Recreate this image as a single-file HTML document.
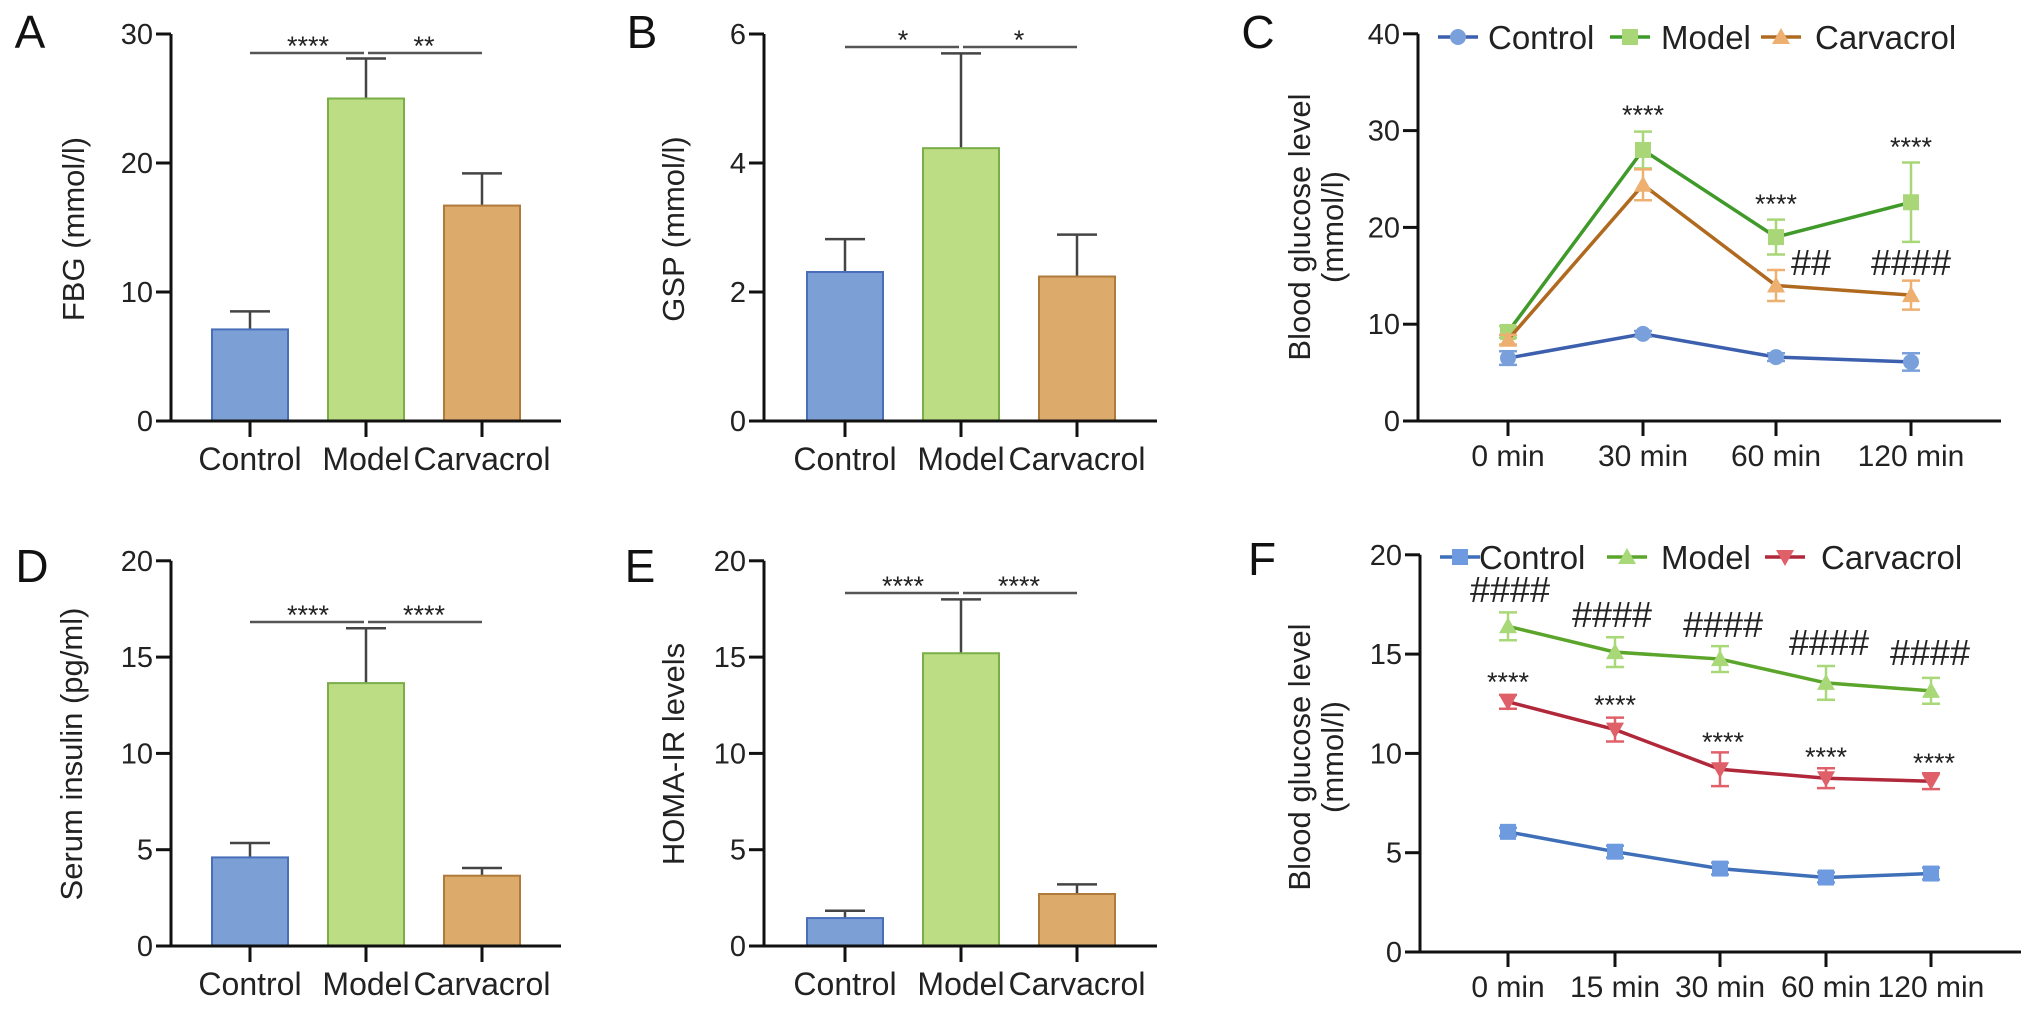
<!DOCTYPE html>
<html><head><meta charset="utf-8"><style>
html,body{margin:0;padding:0;background:#fff;}
svg{display:block;font-family:"Liberation Sans",Arial,sans-serif;}
</style></head><body>
<svg id="fig" width="2032" height="1012" viewBox="0 0 2032 1012" xmlns="http://www.w3.org/2000/svg"></svg>
<script>
// ---- data ----
const barCats = ["Control","Model","Carvacrol"];
const aVals = [7.1, 25.0, 16.7];
const aErr = [8.5, 28.1, 19.2];
const bVals = [2.31, 4.23, 2.24];
const bErr = [2.82, 5.70, 2.89];
const dVals = [4.6, 13.65, 3.65];
const dErr = [5.35, 16.5, 4.05];
const eVals = [1.45, 15.2, 2.7];
const eErr = [1.83, 18.0, 3.2];
const aTicks = [0,10,20,30];
const bTicks = [0,2,4,6];
const dTicks = [0,5,10,15,20];
const cCats = ["0 min","30 min","60 min","120 min"];
const cTicks = [0,10,20,30,40];
const cControl = [6.5, 9.0, 6.6, 6.1];
const cControlSd = [0.7, 0.3, 0.4, 0.9];
const cModel = [9.2, 28.0, 19.0, 22.6];
const cModelSd = [0.6, 1.9, 1.8, 4.1];
const cCarv = [8.4, 24.4, 14.0, 13.0];
const cCarvSd = [0.5, 1.6, 1.6, 1.5];
const fCats = ["0 min","15 min","30 min","60 min","120 min"];
const fTicks = [0,5,10,15,20];
const fControl = [6.05, 5.05, 4.2, 3.75, 3.95];
const fControlSd = [0.2, 0.3, 0.3, 0.25, 0.3];
const fModel = [16.4, 15.1, 14.75, 13.55, 13.15];
const fModelSd = [0.7, 0.75, 0.65, 0.85, 0.65];
const fCarv = [12.6, 11.2, 9.2, 8.75, 8.6];
const fCarvSd = [0.35, 0.6, 0.85, 0.5, 0.4];

const NS="http://www.w3.org/2000/svg";
const svg=document.getElementById('fig');
function el(tag,attrs,parent,text){const e=document.createElementNS(NS,tag);for(const k in attrs)e.setAttribute(k,attrs[k]);if(text!==undefined)e.textContent=text;(parent||svg).appendChild(e);return e;}
const FILL=["#7c9fd6","#bcdd84","#dcab6b"], STROKE=["#4a6fb8","#7aae48","#b07a3a"];

function panelLetter(t,x,y){const e=el('text',{x:x,y:y,'font-size':46,fill:'#111','text-anchor':'middle'},svg,t);

}

function yAxis(g,ax,yFn,ticks,x1){
  el('line',{x1:ax,y1:yFn(ticks[ticks.length-1]),x2:ax,y2:yFn(0),stroke:'#111','stroke-width':3},g);
  ticks.forEach(t=>{el('line',{x1:ax-15,y1:yFn(t),x2:ax,y2:yFn(t),stroke:'#111','stroke-width':3},g);
    const tx=el('text',{x:ax-18,y:yFn(t)+10,'font-size':29,'text-anchor':'end',fill:'#222'},g,String(t));
    
    });
  const xa=el('line',{x1:ax-15,y1:yFn(0),x2:x1,y2:yFn(0),stroke:'#111','stroke-width':3},g);
  
  
}
function yTitle(g,lines,x,cy){
  lines.forEach((s,i)=>{const t=el('text',{x:0,y:0,'font-size':31,'text-anchor':'middle',fill:'#222',transform:`translate(${x+i*33},${cy}) rotate(-90)`},g,s);
  
  });
}
function stars(g,s,x,y,size){const t=el('text',{x:x,y:y,'font-size':size||27,'text-anchor':'middle',fill:'#222'},g,s);
  
  }

function barPanel(name,ax,base,unitPx,ticks,vals,errs,centers,xEnd,title,titleX,sig){
  const g=el('g',{});
  
  
  const yFn=v=>base-v*unitPx;
  vals.forEach((v,i)=>{
    const cx=centers[i];
    el('line',{x1:cx,y1:yFn(v),x2:cx,y2:yFn(errs[i]),stroke:'#444','stroke-width':2.5},g);
    el('line',{x1:cx-20,y1:yFn(errs[i]),x2:cx+20,y2:yFn(errs[i]),stroke:'#444','stroke-width':2.5},g);
    const r=el('rect',{x:cx-38,y:yFn(v),width:76,height:base-yFn(v),fill:FILL[i],stroke:STROKE[i],'stroke-width':2},g);
    
    
    el('line',{x1:cx,y1:base,x2:cx,y2:base+16,stroke:'#111','stroke-width':3},g);
    const t=el('text',{x:cx,y:base+49,'font-size':32,'text-anchor':'middle',fill:'#222'},g,barCats[i]);
    
    
  });
  yAxis(g,ax,yFn,ticks,xEnd);
  yTitle(g,[title],titleX,base-192);
  el('line',{x1:centers[0],y1:sig.y,x2:centers[1]-2,y2:sig.y,stroke:'#555','stroke-width':2.5},g);
  el('line',{x1:centers[1]+2,y1:sig.y,x2:centers[2],y2:sig.y,stroke:'#555','stroke-width':2.5},g);
  stars(g,sig.l,(centers[0]+centers[1])/2,sig.y+2);
  stars(g,sig.r,(centers[1]+centers[2])/2,sig.y+2);
}

panelLetter('A',30,48);
barPanel('panel-a-fbg',171,421,12.9,aTicks,aVals,aErr,[250,366,482],561,'FBG (mmol/l)',84,{y:53,l:'****',r:'**'});
panelLetter('B',642,48);
barPanel('panel-b-gsp',764,421,64.5,bTicks,bVals,bErr,[845,961,1077],1157,'GSP (mmol/l)',684,{y:47,l:'*',r:'*'});
panelLetter('D',32,582);
barPanel('panel-d-insulin',171,946,19.26,dTicks,dVals,dErr,[250,366,482],561,'Serum insulin (pg/ml)',82,{y:622,l:'****',r:'****'});
panelLetter('E',640,582);
barPanel('panel-e-homa',764,946,19.26,dTicks,eVals,eErr,[845,961,1077],1157,'HOMA-IR levels',684,{y:593,l:'****',r:'****'});

function marker(g,type,x,y,fill){
  if(type==='circle') return el('circle',{cx:x,cy:y,r:8,fill:fill},g);
  if(type==='square') return el('rect',{x:x-8,y:y-8,width:16,height:16,fill:fill},g);
  if(type==='tri') return el('polygon',{points:`${x},${y-9} ${x-9},${y+7} ${x+9},${y+7}`,fill:fill},g);
  return el('polygon',{points:`${x},${y+9} ${x-9},${y-7} ${x+9},${y-7}`,fill:fill},g);
}
function series(g,name,xs,vals,sds,yFn,line,mfill,mtype){
  const sg=el('g',{},g);
  
  
  const pts=vals.map((v,i)=>xs[i]+','+yFn(v)).join(' ');
  el('polyline',{points:pts,fill:'none',stroke:line,'stroke-width':3.5},sg);
  vals.forEach((v,i)=>{
    const x=xs[i];
    el('line',{x1:x,y1:yFn(v-sds[i]),x2:x,y2:yFn(v+sds[i]),stroke:mfill,'stroke-width':2.5},sg);
    el('line',{x1:x-9,y1:yFn(v-sds[i]),x2:x+9,y2:yFn(v-sds[i]),stroke:mfill,'stroke-width':2.5},sg);
    el('line',{x1:x-9,y1:yFn(v+sds[i]),x2:x+9,y2:yFn(v+sds[i]),stroke:mfill,'stroke-width':2.5},sg);
    const m=marker(sg,mtype,x,yFn(v),mfill);
    
    
  });
}
function legend(g,items,y){
  items.forEach(it=>{
    const lg=el('g',{},g);
    
    
    el('line',{x1:it.x,y1:y,x2:it.x+40,y2:y,stroke:it.line,'stroke-width':3.5},lg);
    marker(lg,it.type,it.x+20,y,it.fill);
    el('text',{x:it.tx,y:y+12,'font-size':33,fill:'#222'},lg,it.label);
  });
}
function linePanel(name,ax,base,unitPx,ticks,cats,xs,xEnd,titleY){
  const g=el('g',{});
  
  
  const yFn=v=>base-v*unitPx;
  cats.forEach((c,i)=>{
    el('line',{x1:xs[i],y1:base,x2:xs[i],y2:base+15,stroke:'#111','stroke-width':3},g);
    const t=el('text',{x:xs[i],y:base+45,'font-size':30,'text-anchor':'middle',fill:'#222'},g,c);
    
    
  });
  yAxis(g,ax,yFn,ticks,xEnd);
  yTitle(g,['Blood glucose level','(mmol/l)'],1310,titleY);
  return {g,yFn};
}

panelLetter('C',1258,48);
const cX=[1508,1643,1776,1911];
const C=linePanel('panel-c-ogtt',1418,421,9.68,cTicks,cCats,cX,2001,227);
series(C.g,'series-control',cX,cControl,cControlSd,C.yFn,'#3c5fae','#7aa0dc','circle');
series(C.g,'series-model',cX,cModel,cModelSd,C.yFn,'#3f9a2a','#a9d778','square');
series(C.g,'series-carvacrol',cX,cCarv,cCarvSd,C.yFn,'#b06a20','#eeb070','tri');
legend(C.g,[{x:1438,tx:1488,line:'#3c5fae',fill:'#7aa0dc',type:'circle',label:'Control'},
 {x:1610,tx:1661,line:'#3f9a2a',fill:'#a9d778',type:'square',label:'Model'},
 {x:1761,tx:1815,line:'#b06a20',fill:'#eeb070',type:'tri',label:'Carvacrol'}],37);
stars(C.g,'****',1643,124);stars(C.g,'****',1776,213);stars(C.g,'****',1911,156);
stars(C.g,'##',1811,275,36);stars(C.g,'####',1911,275,36);

panelLetter('F',1262,575);
const fX=[1508,1615,1720,1826,1931];
const F=linePanel('panel-f-itt',1420,952,19.86,fTicks,fCats,fX,2021,757);
series(F.g,'series-control',fX,fControl,fControlSd,F.yFn,'#3f6fb8','#6e9be0','square');
series(F.g,'series-model',fX,fModel,fModelSd,F.yFn,'#5aa52a','#a8d878','tri');
series(F.g,'series-carvacrol',fX,fCarv,fCarvSd,F.yFn,'#b0283a','#e0606a','tridown');
legend(F.g,[{x:1440,tx:1479,line:'#3f6fb8',fill:'#6e9be0',type:'square',label:'Control'},
 {x:1607,tx:1661,line:'#5aa52a',fill:'#a8d878',type:'tri',label:'Model'},
 {x:1765,tx:1821,line:'#b0283a',fill:'#e0606a',type:'tridown',label:'Carvacrol'}],557);
[[1510,602],[1612,627],[1723,637],[1829,655],[1930,665]].forEach(p=>stars(F.g,'####',p[0],p[1],36));
[[1508,691],[1615,714],[1723,751],[1826,766],[1934,772]].forEach(p=>stars(F.g,'****',p[0],p[1]));
</script>
</body></html>
